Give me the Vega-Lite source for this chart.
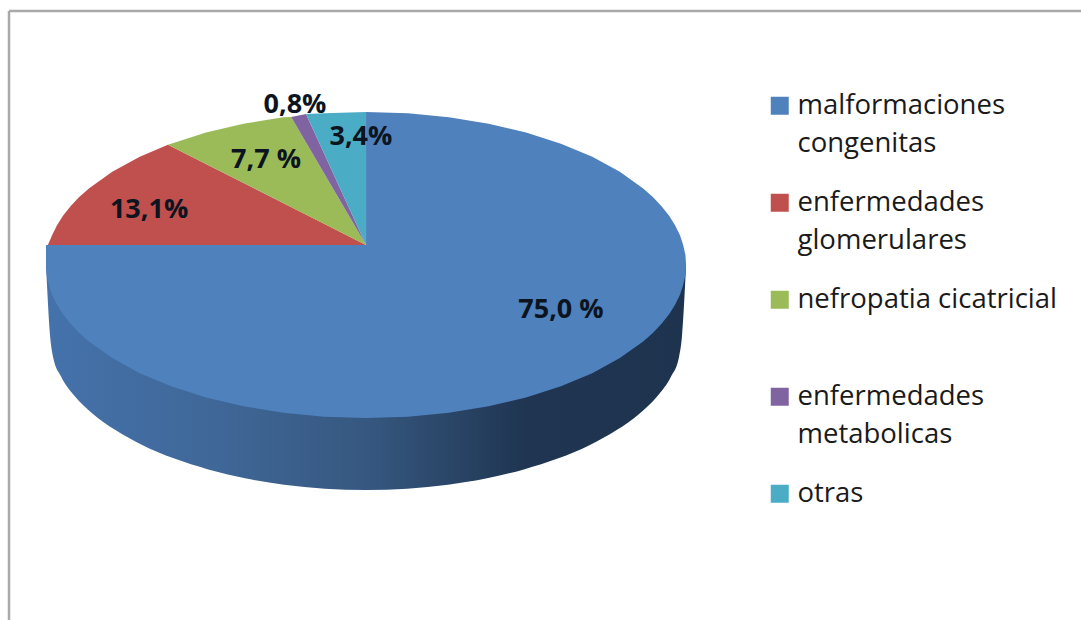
{"$schema":"https://vega.github.io/schema/vega-lite/v6.json","width":1081,"height":620,"padding":0,"autosize":"none","background":"white","view":{"stroke":null},
"datasets":{
"wall":[
{"x":-100,"y":-6.25,"y2":-6.25},{"x":-98.7,"y":-6.25,"y2":-28.75},{"x":-97.8,"y":-6.25,"y2":-34.99},{"x":-95.3,"y":-6.25,"y2":-41.12},{"x":-91.2,"y":-6.25,"y2":-47.04},{"x":-85.5,"y":-6.25,"y2":-52.65},{"x":-78.3,"y":-6.25,"y2":-57.85},{"x":-69.8,"y":-6.25,"y2":-62.55},{"x":-60.1,"y":-6.25,"y2":-66.67},{"x":-49.3,"y":-6.25,"y2":-70.14},{"x":-37.8,"y":-6.25,"y2":-72.91},{"x":-25.6,"y":-6.25,"y2":-74.92},{"x":-12.9,"y":-6.25,"y2":-76.14},{"x":0,"y":-6.25,"y2":-76.55},{"x":12.9,"y":-6.25,"y2":-76.14},{"x":25.6,"y":-6.25,"y2":-74.92},{"x":37.8,"y":-6.25,"y2":-72.91},{"x":49.3,"y":-6.25,"y2":-70.14},{"x":60.1,"y":-6.25,"y2":-66.67},{"x":69.8,"y":-6.25,"y2":-62.55},{"x":78.3,"y":-6.25,"y2":-57.85},{"x":85.5,"y":-6.25,"y2":-52.65},{"x":91.2,"y":-6.25,"y2":-47.04},{"x":95.3,"y":-6.25,"y2":-41.12},{"x":97.8,"y":-6.25,"y2":-34.99},{"x":98.7,"y":-6.25,"y2":-28.75},{"x":100,"y":-6.25,"y2":-6.25}],
"slices":[
{"slice":"malformaciones congenitas","x":-100,"y":0,"y2":-6.25},{"slice":"malformaciones congenitas","x":-99.8,"y":0,"y2":-9.38},{"slice":"malformaciones congenitas","x":-99.1,"y":0,"y2":-12.49},{"slice":"malformaciones congenitas","x":-98.1,"y":0,"y2":-15.58},{"slice":"malformaciones congenitas","x":-96.6,"y":0,"y2":-18.62},{"slice":"malformaciones congenitas","x":-94.7,"y":0,"y2":-21.61},{"slice":"malformaciones congenitas","x":-92.4,"y":0,"y2":-24.54},{"slice":"malformaciones congenitas","x":-89.7,"y":0,"y2":-27.39},{"slice":"malformaciones congenitas","x":-86.6,"y":0,"y2":-30.15},{"slice":"malformaciones congenitas","x":-79.3,"y":0,"y2":-35.35},{"slice":"malformaciones congenitas","x":-70.7,"y":0,"y2":-40.05},{"slice":"malformaciones congenitas","x":-60.9,"y":0,"y2":-44.17},{"slice":"malformaciones congenitas","x":-50,"y":0,"y2":-47.64},{"slice":"malformaciones congenitas","x":-38.3,"y":0,"y2":-50.41},{"slice":"malformaciones congenitas","x":-25.9,"y":0,"y2":-52.42},{"slice":"malformaciones congenitas","x":-13.1,"y":0,"y2":-53.64},{"slice":"malformaciones congenitas","x":0,"y":0,"y2":-54.05},
{"slice":"malformaciones congenitas","x":0,"y":41.55,"y2":-54.05},{"slice":"malformaciones congenitas","x":13.1,"y":41.14,"y2":-53.64},{"slice":"malformaciones congenitas","x":25.9,"y":39.92,"y2":-52.42},{"slice":"malformaciones congenitas","x":38.3,"y":37.91,"y2":-50.41},{"slice":"malformaciones congenitas","x":50,"y":35.14,"y2":-47.64},{"slice":"malformaciones congenitas","x":60.9,"y":31.67,"y2":-44.17},{"slice":"malformaciones congenitas","x":70.7,"y":27.55,"y2":-40.05},{"slice":"malformaciones congenitas","x":79.3,"y":22.85,"y2":-35.35},{"slice":"malformaciones congenitas","x":86.6,"y":17.65,"y2":-30.15},{"slice":"malformaciones congenitas","x":89.7,"y":14.89,"y2":-27.39},{"slice":"malformaciones congenitas","x":92.4,"y":12.04,"y2":-24.54},{"slice":"malformaciones congenitas","x":94.7,"y":9.11,"y2":-21.61},{"slice":"malformaciones congenitas","x":96.6,"y":6.12,"y2":-18.62},{"slice":"malformaciones congenitas","x":98.1,"y":3.08,"y2":-15.58},{"slice":"malformaciones congenitas","x":99.1,"y":0,"y2":-12.49},{"slice":"malformaciones congenitas","x":99.8,"y":-3.12,"y2":-9.38},{"slice":"malformaciones congenitas","x":100,"y":-6.25,"y2":-6.25},
{"slice":"enfermedades glomerulares","x":-99.4,"y":0,"y2":0},{"slice":"enfermedades glomerulares","x":-98.1,"y":3.08,"y2":0},{"slice":"enfermedades glomerulares","x":-96.6,"y":6.12,"y2":0},{"slice":"enfermedades glomerulares","x":-94.7,"y":9.11,"y2":0},{"slice":"enfermedades glomerulares","x":-92.4,"y":12.04,"y2":0},{"slice":"enfermedades glomerulares","x":-89.7,"y":14.89,"y2":0},{"slice":"enfermedades glomerulares","x":-86.6,"y":17.65,"y2":0},{"slice":"enfermedades glomerulares","x":-79.3,"y":22.85,"y2":0},{"slice":"enfermedades glomerulares","x":-70.7,"y":27.55,"y2":0},{"slice":"enfermedades glomerulares","x":-61.9,"y":31.3,"y2":0},{"slice":"enfermedades glomerulares","x":0,"y":0,"y2":0},
{"slice":"nefropatia cicatricial","x":-61.9,"y":31.3,"y2":31.3},{"slice":"nefropatia cicatricial","x":-50,"y":35.14,"y2":25.3},{"slice":"nefropatia cicatricial","x":-38.3,"y":37.91,"y2":19.4},{"slice":"nefropatia cicatricial","x":-25.9,"y":39.92,"y2":13.1},{"slice":"nefropatia cicatricial","x":-23.4,"y":40,"y2":11.8},{"slice":"nefropatia cicatricial","x":0,"y":0,"y2":0},
{"slice":"enfermedades metabolicas","x":-23.4,"y":40,"y2":40},{"slice":"enfermedades metabolicas","x":-18.75,"y":40.9,"y2":32.05},{"slice":"enfermedades metabolicas","x":0,"y":0,"y2":0},
{"slice":"otras","x":-18.75,"y":40.9,"y2":40.9},{"slice":"otras","x":-13.1,"y":41.14,"y2":28.58},{"slice":"otras","x":0,"y":41.55,"y2":0}],
"labels":[
{"slice":"malformaciones congenitas","value":75.0,"label":"75,0 %","x":60.9,"y":-20.3},
{"slice":"enfermedades glomerulares","value":13.1,"label":"13,1%","x":-67.8,"y":10.9},
{"slice":"nefropatia cicatricial","value":7.7,"label":"7,7 %","x":-31.25,"y":26.6},
{"slice":"enfermedades metabolicas","value":0.8,"label":"0,8%","x":-22.2,"y":43.75},
{"slice":"otras","value":3.4,"label":"3,4%","x":-1.6,"y":33.75}],
"frame":[
{"x":-111.56,"x2":223.5,"y":73.1,"y2":73.1},
{"x":-111.56,"x2":-111.56,"y":73.1,"y2":-118}]
},
"layer":[
{"data":{"name":"frame"},"mark":{"type":"rule","color":"#a9a9a9","strokeWidth":2.5},
"encoding":{"x":{"field":"x","type":"quantitative","scale":{"domain":[-114.375,223.4],"nice":false,"zero":false},"axis":null},"x2":{"field":"x2"},"y":{"field":"y","type":"quantitative","scale":{"domain":[-117.19,76.56],"nice":false,"zero":false},"axis":null},"y2":{"field":"y2"}}},
{"data":{"name":"wall"},"mark":{"type":"area","interpolate":"monotone","color":{"gradient":"linear","x1":0,"x2":1,"y1":0,"y2":0,"stops":[{"offset":0,"color":"#4472ab"},{"offset":0.25,"color":"#406899"},{"offset":0.5,"color":"#365880"},{"offset":0.75,"color":"#1f3551"},{"offset":1,"color":"#1e334e"}]}},
"encoding":{"x":{"field":"x","type":"quantitative","axis":null},"y":{"field":"y","type":"quantitative","axis":null},"y2":{"field":"y2"}}},
{"data":{"name":"slices"},"mark":{"type":"area"},
"encoding":{"x":{"field":"x","type":"quantitative","axis":null},"y":{"field":"y","type":"quantitative","axis":null},"y2":{"field":"y2"},
"color":{"field":"slice","type":"nominal","scale":{"domain":["malformaciones congenitas","enfermedades glomerulares","nefropatia cicatricial","enfermedades metabolicas","otras"],"range":["#4f81bd","#c0504d","#9bbb59","#8064a2","#4bacc6"]},
"legend":{"title":null,"orient":"none","legendX":766,"legendY":92,"symbolType":"square","symbolSize":324,"symbolStrokeWidth":0,"labelFont":"Open Sans","labelFontSize":27.5,"labelColor":"#1a1a1a","labelLimit":320,"labelOffset":4,"rowPadding":30,"labelExpr":"datum.label == 'nefropatia cicatricial' ? ['nefropatia cicatricial',' '] : datum.label == 'otras' ? 'otras' : split(datum.label,' ')","encoding":{"labels":{"lineHeight":{"value":38}}}}}}},
{"data":{"name":"labels"},"mark":{"type":"text","font":"Open Sans","fontWeight":"bold","fontSize":27,"color":"#0c1420"},
"encoding":{"x":{"field":"x","type":"quantitative","axis":null},"y":{"field":"y","type":"quantitative","axis":null},"text":{"field":"label"}}}
]}
